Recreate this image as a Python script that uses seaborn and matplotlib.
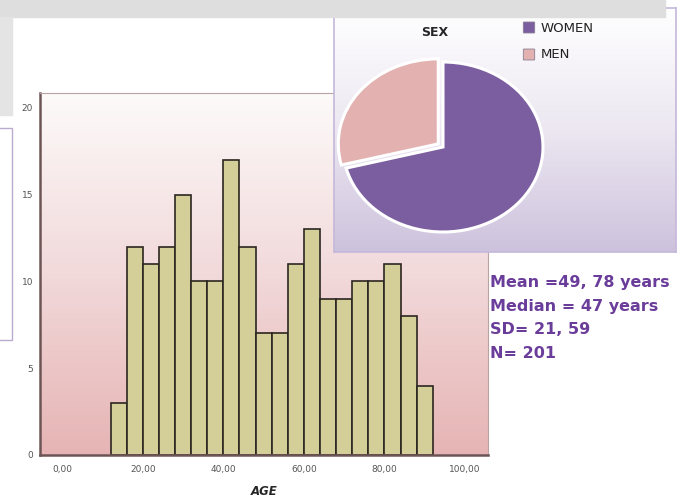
import numpy as np
import matplotlib
matplotlib.use("Agg")
import matplotlib.pyplot as plt
import matplotlib.patches as mpatches
from matplotlib.colors import LinearSegmentedColormap
import seaborn as sns

# age histogram (bins of 4 years, 12 -> 92)
bin_edges = [12, 16, 20, 24, 28, 32, 36, 40, 44, 48, 52, 56, 60, 64, 68, 72, 76, 80, 84, 88, 92]
counts = [3, 12, 11, 12, 15, 10, 10, 17, 12, 7, 7, 11, 13, 9, 9, 10, 10, 11, 8, 4]
x_ticks = [0, 20, 40, 60, 80, 100]
x_tick_labels = ["0,00", "20,00", "40,00", "60,00", "80,00", "100,00"]
y_ticks = [0, 5, 10, 15, 20]

# sex pie
sex_labels = ["WOMEN", "MEN"]
sex_values = [71, 29]
sex_colors = ["#7b5e9f", "#e2b1b0"]

stats_lines = ["Mean =49, 78 years", "Median = 47 years", "SD= 21, 59", "N= 201"]

sns.set_style("white")
plt.rcParams["font.family"] = ["DejaVu Sans"]

fig = plt.figure(figsize=(6.92, 5.0), dpi=100)
W, H = 692, 500

def px_axes(x0, y0, x1, y1, **kw):
    return fig.add_axes([x0 / W, 1 - y1 / H, (x1 - x0) / W, (y1 - y0) / H], **kw)

# slide decorations (grey band top/left, side box)
fig.patches.append(mpatches.Rectangle((0, 1 - 17 / H), 665 / W, 17 / H, transform=fig.transFigure,
                                      color="#dedede", zorder=0))
fig.patches.append(mpatches.Rectangle((0, 1 - 115 / H), 12 / W, 98 / H, transform=fig.transFigure,
                                      color="#e4e4e4", zorder=0))
fig.patches.append(mpatches.Rectangle((-0.01, 1 - 340 / H), 19 / W, 212 / H, transform=fig.transFigure,
                                      fill=False, edgecolor="#b9aad0", lw=1, zorder=0))

# histogram
ax = px_axes(40, 93, 488, 455)
grad = LinearSegmentedColormap.from_list("bg", ["#fdfafa", "#f2d9da", "#e6b4b4"])
ax.imshow(np.linspace(0, 1, 256).reshape(-1, 1), cmap=grad, aspect="auto",
          extent=[-5.5, 105.7, 0, 20.85], zorder=0)
centers = [(a + b) / 2 for a, b in zip(bin_edges[:-1], bin_edges[1:])]
sns.histplot(x=centers, weights=counts, bins=bin_edges, ax=ax, color="#d4cf98",
             edgecolor="#2b2620", linewidth=1.2, alpha=1, zorder=2)
ax.set_xlim(-5.5, 105.7)
ax.set_ylim(0, 20.85)
ax.set_xticks(x_ticks)
ax.set_xticklabels(x_tick_labels)
ax.set_yticks(y_ticks)
ax.tick_params(axis="both", direction="out", length=5, width=1.2, color="#3a3030",
               labelsize=6.5, labelcolor="#555555", pad=2)
ax.tick_params(axis="y", length=4, pad=1)
ax.set_ylabel("")
ax.set_xlabel("AGE", fontsize=8.5, fontweight="bold", fontstyle="italic", labelpad=8)
for s in ["left", "bottom"]:
    ax.spines[s].set_color("#6e5555")
    ax.spines[s].set_linewidth(1.8)
for s in ["top", "right"]:
    ax.spines[s].set_color("#b9a2a2")
    ax.spines[s].set_linewidth(0.8)

# pie inset box
box = px_axes(334, 8, 676, 252)
pgrad = LinearSegmentedColormap.from_list("pbg", ["#ffffff", "#ece7f1", "#cdc2dd"])
box.imshow(np.linspace(0, 1, 256).reshape(-1, 1), cmap=pgrad, aspect="auto",
           extent=[0, 1, 0, 1], zorder=0)
box.set_xlim(0, 1)
box.set_ylim(0, 1)
box.set_xticks([])
box.set_yticks([])
for s in box.spines.values():
    s.set_color("#c4b8da")
    s.set_linewidth(1.2)
box.text(101 / 342, 1 - 24 / 244, "SEX", fontsize=9, fontweight="bold", ha="center", va="center",
         transform=box.transAxes)
for i, (lab, col) in enumerate(zip(sex_labels, sex_colors)):
    yy = 1 - (28 + 27 * i - 8) / 244
    box.add_patch(mpatches.FancyBboxPatch((190 / 342, yy - 4.5 / 244), 10 / 342, 10 / 244,
                                          boxstyle="round,pad=0.002", facecolor=col,
                                          edgecolor="#8a7f95", lw=0.6, transform=box.transAxes))
    box.text(207 / 342, yy, lab, fontsize=9.5, color="#222222", va="center",
             transform=box.transAxes)

pie_ax = px_axes(443 - 120, 147 - 102, 443 + 120, 147 + 102)
pie_ax.patch.set_alpha(0)
pie_ax.pie(sex_values, colors=sex_colors, startangle=90, counterclock=False,
           explode=[0.0, 0.06], wedgeprops=dict(edgecolor="white", linewidth=2.2))
pie_ax.set_aspect("auto")
pie_ax.set_xlim(-1.2, 1.2)
pie_ax.set_ylim(-1.2, 1.2)
pie_ax.axis("off")

# summary statistics
for i, line in enumerate(stats_lines):
    fig.text(490 / W, 1 - (283 + 23.5 * i) / H, line, fontsize=11.5, fontweight="bold",
             color="#6a3d9a", va="center", ha="left")

fig.savefig("out.png", dpi=100)
